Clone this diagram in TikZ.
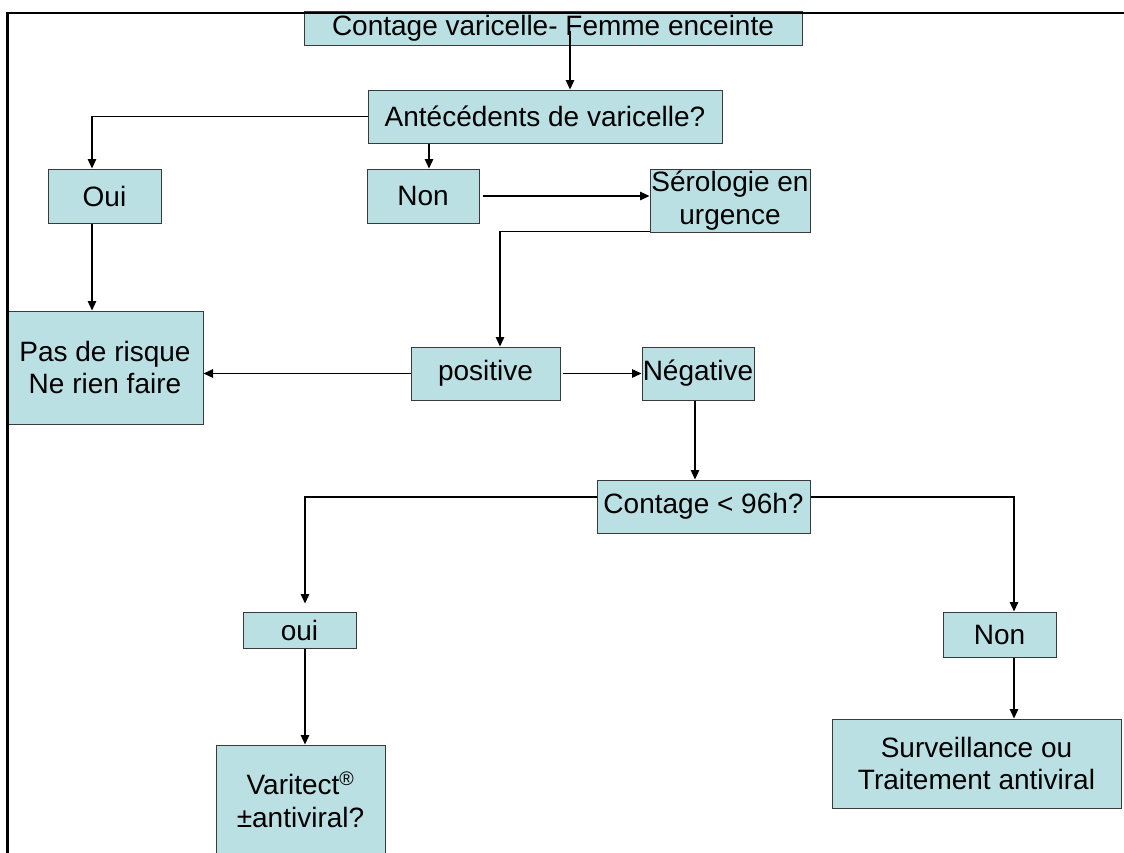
\documentclass[tikz,border=0pt]{standalone}
\usepackage{fontspec}
\setmainfont{Liberation Sans}
\usetikzlibrary{arrows.meta}
\definecolor{boxfill}{HTML}{BBE0E3}
\definecolor{boxline}{HTML}{3A3A3A}
\tikzset{
  box/.style={draw=boxline, line width=1pt, fill=boxfill, inner sep=0pt, align=center,
    font=\fontsize{28}{32.5}\selectfont},
  arr/.style={draw=black, line width=1.3pt, -{Triangle[length=9.5pt,width=8.5pt]}},
  frame/.style={draw=black, line width=2.4pt}
}
\begin{document}
\begin{tikzpicture}[x=1pt,y=-1pt]
\clip (0,0) rectangle (1124,852);
\fill[white] (0,0) rectangle (1124,852);
% nodes
\node[box, minimum width=498pt, minimum height=34pt] (title) at (553,28) {Contage varicelle- Femme enceinte};
\node[box, minimum width=354pt, minimum height=53pt] (ante) at (545,116.5) {Antécédents de varicelle?};
\node[box, minimum width=113pt, minimum height=54pt] (oui1) at (104.5,196) {Oui};
\node[box, minimum width=112pt, minimum height=54pt] (non1) at (423,196) {Non};
\node[box, minimum width=160pt, minimum height=63pt] (sero) at (730,200.5) {Sérologie en\\urgence};
\node[box, minimum width=196pt, minimum height=113pt] (pas) at (105,367.5) {Pas de risque\\Ne rien faire};
\node[box, minimum width=149pt, minimum height=53pt] (pos) at (485.5,373.5) {positive};
\node[box, minimum width=112pt, minimum height=53pt] (neg) at (698,373.5) {Négative};
\node[box, minimum width=213pt, minimum height=53pt] (c96) at (703.5,506.5) {Contage < 96h?};
\node[box, minimum width=113pt, minimum height=36pt] (oui2) at (299.5,630) {oui};
\node[box, minimum width=113pt, minimum height=45pt] (non2) at (999.5,634.5) {Non};
\node[box, minimum width=289pt, minimum height=89pt] (surv) at (976.5,763.5) {Surveillance ou\\Traitement antiviral};
\node[box, minimum width=169pt, minimum height=110pt] (vari) at (300.5,800) {Varitect\textsuperscript{®}\\±antiviral?};
% connectors
\coordinate (t1) at (570,31);
\draw[arr] (t1) -- (t1 |- ante.north);
\draw[arr] (ante.west) -| ([xshift=-12.5pt]oui1.north);
\draw[arr] ([xshift=6pt]non1.north |- ante.south) -- ([xshift=6pt]non1.north);
\draw[arr] ([xshift=3pt]non1.east) -- (non1.east -| sero.west);
\draw[arr] ([yshift=1pt]sero.south west) -| ([xshift=14.5pt]pos.north);
\draw[arr] (pos.west) -- (pos.west -| pas.east);
\draw[arr] ([xshift=-12.5pt]oui1.south) -- ([xshift=-12.5pt]oui1.south |- pas.north);
\draw[arr] ([xshift=2pt]pos.east) -- (neg.west);
\draw[arr] ([xshift=-3pt]neg.south) -- ([xshift=-3pt]neg.south |- c96.north);
\draw[arr] ([yshift=9.5pt]c96.west) -| ([xshift=5.5pt,yshift=8pt]oui2.north);
\draw[arr] ([yshift=9.5pt]c96.east) -| ([xshift=14.5pt]non2.north);
\draw[arr] ([xshift=5.5pt]oui2.south) -- ([xshift=5.5pt]oui2.south |- vari.north);
\draw[arr] ([xshift=14.5pt]non2.south) -- ([xshift=14.5pt]non2.south |- surv.north);
% frame
\draw[frame] (7.5,860) -- (7.5,13) -- (1130,13);
\end{tikzpicture}
\end{document}
